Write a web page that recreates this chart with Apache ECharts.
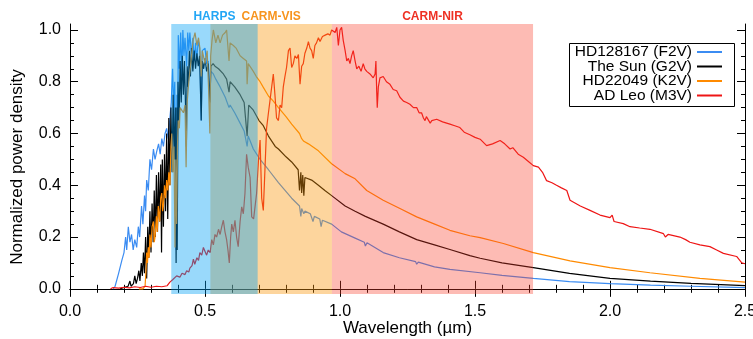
<!DOCTYPE html>
<html><head><meta charset="utf-8">
<script src="https://cdn.jsdelivr.net/npm/echarts@6/dist/echarts.min.js"></script>
<style>html,body{margin:0;padding:0;background:#fff}#c{width:753px;height:339px}</style>
</head><body><div id="c"></div>
<script>
const seriesNames = ['HD128167 (F2V)', 'The Sun (G2V)', 'HD22049 (K2V)', 'AD Leo (M3V)'];
const xTicks = [0.0, 0.5, 1.0, 1.5, 2.0, 2.5];
const yTicks = [0.0, 0.2, 0.4, 0.6, 0.8, 1.0];
const yMinorTicks = [0.05,0.1,0.15,0.25,0.3,0.35,0.45,0.5,0.55,0.65,0.7,0.75,0.85,0.9,0.95];
const bandNames = ['CARM-VIS', 'CARM-NIR', 'HARPS'];
const bandStart = [0.52, 0.97, 0.375];
const bandEnd = [0.97, 1.715, 0.695];

const hd128167 = [[0.160,0.0],[0.167,0.01],[0.180,0.06],[0.192,0.11],[0.200,0.14],[0.206,0.2],[0.210,0.15],[0.216,0.24],[0.222,0.18],[0.228,0.21],[0.234,0.15],[0.240,0.19],[0.247,0.16],[0.253,0.24],[0.258,0.20],[0.265,0.32],[0.270,0.25],[0.276,0.36],[0.280,0.30],[0.284,0.42],[0.290,0.38],[0.296,0.50],[0.302,0.46],[0.309,0.54],[0.315,0.50],[0.321,0.53],[0.328,0.56],[0.334,0.52],[0.340,0.58],[0.346,0.55],[0.352,0.60],[0.358,0.62],[0.364,0.58],[0.370,0.66],[0.375,0.72],[0.380,0.85],[0.384,0.70],[0.388,0.80],[0.393,0.15],[0.396,0.75],[0.398,0.30],[0.401,0.98],[0.405,0.85],[0.410,0.99],[0.414,0.82],[0.418,1.0],[0.422,0.90],[0.426,0.97],[0.432,0.86],[0.436,0.99],[0.440,0.92],[0.444,0.99],[0.450,0.90],[0.455,0.97],[0.460,0.88],[0.465,0.95],[0.469,0.88],[0.475,0.96],[0.480,0.93],[0.486,0.65],[0.490,0.92],[0.500,0.93],[0.506,0.87],[0.512,0.88],[0.518,0.73],[0.522,0.84],[0.531,0.83],[0.540,0.81],[0.556,0.78],[0.575,0.74],[0.589,0.70],[0.593,0.71],[0.610,0.68],[0.630,0.64],[0.645,0.61],[0.656,0.55],[0.660,0.59],[0.679,0.54],[0.704,0.50],[0.735,0.46],[0.772,0.41],[0.821,0.35],[0.850,0.32],[0.855,0.28],[0.858,0.31],[0.866,0.29],[0.870,0.30],[0.890,0.29],[0.900,0.26],[0.905,0.28],[0.925,0.27],[0.930,0.24],[0.935,0.265],[0.969,0.25],[1.005,0.22],[1.056,0.196],[1.090,0.18],[1.094,0.165],[1.100,0.178],[1.160,0.14],[1.220,0.12],[1.280,0.105],[1.284,0.095],[1.290,0.103],[1.350,0.085],[1.407,0.075],[1.519,0.062],[1.600,0.052],[1.716,0.04],[1.850,0.028],[2.000,0.02],[2.150,0.014],[2.300,0.01],[2.500,0.005]];

const sun = [[0.185,0.0],[0.200,0.005],[0.215,0.01],[0.222,0.03],[0.226,0.01],[0.235,0.02],[0.240,0.05],[0.245,0.02],[0.250,0.04],[0.255,0.07],[0.259,0.03],[0.264,0.10],[0.268,0.05],[0.272,0.14],[0.276,0.06],[0.280,0.20],[0.284,0.04],[0.288,0.24],[0.292,0.12],[0.296,0.30],[0.300,0.14],[0.304,0.33],[0.308,0.18],[0.312,0.38],[0.316,0.20],[0.320,0.44],[0.324,0.22],[0.328,0.45],[0.332,0.26],[0.336,0.48],[0.339,0.14],[0.342,0.50],[0.346,0.24],[0.350,0.52],[0.354,0.30],[0.358,0.60],[0.362,0.27],[0.366,0.66],[0.370,0.40],[0.374,0.70],[0.378,0.45],[0.382,0.75],[0.386,0.50],[0.390,0.70],[0.393,0.10],[0.396,0.70],[0.397,0.15],[0.400,0.80],[0.404,0.65],[0.408,0.88],[0.412,0.72],[0.416,0.90],[0.420,0.75],[0.424,0.88],[0.428,0.70],[0.431,0.55],[0.434,0.86],[0.438,0.78],[0.442,0.92],[0.446,0.82],[0.450,0.93],[0.455,0.84],[0.460,0.92],[0.465,0.85],[0.470,0.91],[0.475,0.86],[0.480,0.90],[0.486,0.65],[0.490,0.88],[0.495,0.85],[0.500,0.89],[0.506,0.84],[0.512,0.87],[0.518,0.72],[0.522,0.86],[0.530,0.87],[0.537,0.86],[0.550,0.85],[0.568,0.83],[0.580,0.81],[0.589,0.76],[0.593,0.80],[0.610,0.78],[0.630,0.75],[0.645,0.72],[0.656,0.59],[0.662,0.71],[0.679,0.69],[0.700,0.65],[0.716,0.63],[0.735,0.59],[0.760,0.55],[0.772,0.54],[0.800,0.51],[0.821,0.49],[0.845,0.46],[0.850,0.38],[0.855,0.45],[0.858,0.37],[0.862,0.44],[0.866,0.36],[0.870,0.43],[0.895,0.42],[0.920,0.40],[0.944,0.38],[0.969,0.36],[1.019,0.32],[1.056,0.30],[1.094,0.28],[1.100,0.275],[1.160,0.25],[1.220,0.22],[1.284,0.19],[1.290,0.19],[1.350,0.17],[1.407,0.152],[1.481,0.128],[1.519,0.118],[1.600,0.10],[1.716,0.082],[1.850,0.06],[2.000,0.04],[2.150,0.03],[2.300,0.021],[2.500,0.012]];

const hd22049 = [[0.255,0.0],[0.262,0.005],[0.270,0.0],[0.278,0.01],[0.282,0.08],[0.284,0.14],[0.287,0.10],[0.290,0.16],[0.293,0.12],[0.296,0.21],[0.300,0.16],[0.304,0.24],[0.309,0.26],[0.312,0.18],[0.315,0.20],[0.320,0.28],[0.323,0.22],[0.327,0.32],[0.332,0.26],[0.336,0.35],[0.340,0.37],[0.343,0.30],[0.346,0.32],[0.350,0.40],[0.354,0.35],[0.358,0.42],[0.362,0.38],[0.366,0.45],[0.370,0.40],[0.374,0.55],[0.377,0.60],[0.381,0.45],[0.385,0.55],[0.389,0.16],[0.392,0.50],[0.395,0.25],[0.398,0.55],[0.401,0.65],[0.405,0.62],[0.408,0.70],[0.414,0.70],[0.420,0.68],[0.426,0.71],[0.430,0.47],[0.434,0.72],[0.440,0.80],[0.444,0.84],[0.450,0.90],[0.456,0.96],[0.463,0.99],[0.470,0.94],[0.476,0.97],[0.481,0.93],[0.486,0.82],[0.490,0.92],[0.500,0.87],[0.508,0.92],[0.513,0.78],[0.518,0.60],[0.521,0.90],[0.526,0.96],[0.531,1.0],[0.540,0.95],[0.548,0.98],[0.556,0.95],[0.565,0.98],[0.575,0.99],[0.580,1.0],[0.589,0.88],[0.593,0.95],[0.605,0.94],[0.615,0.93],[0.630,0.90],[0.642,0.89],[0.654,0.88],[0.656,0.79],[0.660,0.87],[0.679,0.84],[0.690,0.82],[0.704,0.80],[0.715,0.78],[0.722,0.775],[0.735,0.745],[0.753,0.725],[0.772,0.70],[0.800,0.665],[0.821,0.636],[0.850,0.60],[0.858,0.58],[0.866,0.57],[0.883,0.56],[0.920,0.533],[0.969,0.483],[1.019,0.445],[1.056,0.425],[1.099,0.38],[1.160,0.342],[1.222,0.31],[1.284,0.278],[1.346,0.252],[1.407,0.226],[1.481,0.205],[1.519,0.198],[1.605,0.175],[1.716,0.14],[1.852,0.108],[2.000,0.082],[2.148,0.062],[2.333,0.04],[2.500,0.026]];

const adLeo = [[0.150,0.0],[0.160,0.005],[0.180,0.003],[0.200,0.006],[0.220,0.004],[0.240,0.008],[0.260,0.005],[0.280,0.01],[0.300,0.006],[0.320,0.01],[0.340,0.008],[0.360,0.012],[0.370,0.026],[0.380,0.035],[0.395,0.05],[0.407,0.045],[0.415,0.06],[0.426,0.055],[0.432,0.07],[0.440,0.065],[0.444,0.08],[0.452,0.09],[0.457,0.115],[0.462,0.095],[0.470,0.12],[0.476,0.11],[0.481,0.14],[0.488,0.13],[0.494,0.16],[0.500,0.153],[0.506,0.13],[0.512,0.15],[0.519,0.14],[0.525,0.19],[0.531,0.17],[0.537,0.21],[0.543,0.20],[0.550,0.23],[0.556,0.21],[0.562,0.24],[0.568,0.265],[0.574,0.22],[0.580,0.19],[0.585,0.15],[0.590,0.10],[0.595,0.20],[0.599,0.25],[0.605,0.22],[0.611,0.265],[0.617,0.20],[0.623,0.163],[0.630,0.26],[0.636,0.317],[0.642,0.29],[0.648,0.368],[0.654,0.52],[0.660,0.47],[0.667,0.43],[0.673,0.278],[0.680,0.27],[0.685,0.265],[0.691,0.368],[0.698,0.495],[0.704,0.575],[0.710,0.35],[0.716,0.303],[0.722,0.46],[0.728,0.62],[0.735,0.68],[0.741,0.73],[0.747,0.78],[0.753,0.83],[0.759,0.75],[0.765,0.66],[0.772,0.65],[0.778,0.71],[0.784,0.70],[0.790,0.78],[0.796,0.82],[0.802,0.855],[0.809,0.92],[0.815,0.93],[0.821,0.855],[0.827,0.87],[0.833,0.90],[0.840,0.89],[0.846,0.905],[0.852,0.79],[0.858,0.86],[0.864,0.87],[0.870,0.91],[0.877,0.93],[0.883,0.955],[0.889,0.93],[0.895,0.92],[0.901,0.89],[0.907,0.94],[0.913,0.95],[0.920,0.97],[0.926,0.955],[0.935,0.975],[0.945,0.98],[0.955,0.985],[0.963,0.98],[0.969,1.0],[0.975,0.995],[0.982,0.99],[0.988,1.01],[0.994,0.94],[1.000,1.0],[1.006,1.01],[1.012,0.96],[1.019,0.92],[1.025,0.88],[1.031,0.89],[1.037,0.87],[1.043,0.90],[1.049,0.92],[1.056,0.88],[1.062,0.85],[1.070,0.86],[1.078,0.84],[1.086,0.87],[1.092,0.85],[1.099,0.84],[1.111,0.83],[1.123,0.815],[1.130,0.83],[1.133,0.88],[1.136,0.76],[1.138,0.70],[1.142,0.78],[1.148,0.815],[1.160,0.82],[1.172,0.80],[1.185,0.79],[1.197,0.77],[1.210,0.765],[1.222,0.74],[1.235,0.725],[1.247,0.72],[1.259,0.713],[1.272,0.70],[1.284,0.70],[1.293,0.68],[1.302,0.68],[1.309,0.66],[1.315,0.65],[1.320,0.665],[1.327,0.66],[1.334,0.64],[1.340,0.65],[1.358,0.655],[1.380,0.645],[1.407,0.636],[1.425,0.63],[1.444,0.623],[1.460,0.605],[1.481,0.595],[1.500,0.585],[1.519,0.578],[1.543,0.553],[1.565,0.56],[1.593,0.573],[1.610,0.56],[1.630,0.54],[1.640,0.545],[1.660,0.52],[1.679,0.508],[1.700,0.49],[1.716,0.476],[1.735,0.47],[1.750,0.45],[1.765,0.418],[1.785,0.41],[1.802,0.40],[1.820,0.39],[1.840,0.38],[1.852,0.342],[1.890,0.32],[1.926,0.303],[1.963,0.285],[2.000,0.275],[2.008,0.285],[2.015,0.26],[2.049,0.252],[2.074,0.24],[2.110,0.235],[2.148,0.23],[2.198,0.213],[2.205,0.20],[2.215,0.21],[2.259,0.20],[2.280,0.19],[2.296,0.18],[2.333,0.17],[2.370,0.163],[2.395,0.15],[2.420,0.137],[2.469,0.125],[2.488,0.10],[2.500,0.097]];

const lineColors = ['#3b8cf2', '#000000', '#ff8a00', '#ee1515'];
const bandFills = ['rgba(250,150,10,0.40)', 'rgba(250,60,40,0.35)', 'rgba(0,160,245,0.40)'];
const bandLabelColors = ['#f7941e', '#ee3124', '#22a6f5'];
const allData = [hd128167, sun, hd22049, adLeo];

const font = "'Liberation Sans', Arial, Helvetica, sans-serif";
const YMIN = -0.02, YMAX = 1.023;
const fmt = v => Number(v).toFixed(1);

const chart = echarts.init(document.getElementById('c'), null, {renderer: 'canvas'});

const series = allData.map((d, i) => ({
  name: seriesNames[i], type: 'line', data: d, showSymbol: false, symbol: 'none',
  lineStyle: {color: lineColors[i], width: 1.2}, itemStyle: {color: lineColors[i]},
  z: 2, silent: true, animation: false
}));
series.push({
  type: 'line', data: [], z: 10, silent: true, animation: false,
  markArea: {
    silent: true, z: 10,
    data: bandNames.map((n, i) => [
      {name: n, xAxis: bandStart[i], itemStyle: {color: bandFills[i]},
       label: {show: true, position: 'top', distance: 1, color: bandLabelColors[i], fontWeight: 'bold', fontSize: 12, fontFamily: font}},
      {xAxis: bandEnd[i]}
    ])
  }
});

const legendCenters = [51, 65.5, 80, 94.5];
const legends = seriesNames.map((n, i) => ({
  data: [n], orient: 'vertical', right: 31, top: legendCenters[i] - 7, align: 'right',
  icon: 'rect', itemWidth: 25, itemHeight: 2, padding: 0, selectedMode: false, z: 6,
  textStyle: {fontSize: 15.5, color: '#000', lineHeight: 14, fontFamily: font}
}));

const axisLineStyle = {color: '#000', width: 1};
const option = {
  animation: false,
  backgroundColor: '#fff',
  textStyle: {fontFamily: font},
  grid: {left: 70, right: 8, top: 24, bottom: 45, containLabel: false, outerBoundsMode: 'none'},
  legend: legends,
  graphic: [{type: 'rect', left: 569, top: 43, z: 4, shape: {width: 165, height: 63}, style: {fill: '#fff', stroke: '#000', lineWidth: 1}}],
  xAxis: [
    {type: 'value', min: 0, max: 2.5, interval: 0.5, position: 'bottom',
     name: 'Wavelength (µm)', nameLocation: 'middle', nameGap: 26, nameMoveOverlap: false,
     nameTextStyle: {fontSize: 17, color: '#000', fontFamily: font},
     axisLine: {show: true, lineStyle: axisLineStyle},
     axisTick: {show: true, inside: true, length: 8, lineStyle: axisLineStyle},
     minorTick: {show: true, splitNumber: 5, length: 4, lineStyle: axisLineStyle},
     axisLabel: {fontSize: 16, color: '#000', margin: 10, formatter: fmt},
     splitLine: {show: false}, minorSplitLine: {show: false}},
    {type: 'value', min: 0, max: 2.5, interval: 0.5, position: 'top',
     axisLine: {show: true, lineStyle: axisLineStyle},
     axisTick: {show: true, inside: true, length: 8, lineStyle: axisLineStyle},
     minorTick: {show: true, splitNumber: 5, length: 4, lineStyle: axisLineStyle},
     axisLabel: {show: false}, splitLine: {show: false}}
  ],
  yAxis: [
    {type: 'value', min: YMIN, max: YMAX, position: 'left',
     name: 'Normalized power density', nameLocation: 'middle', nameGap: 44, nameRotate: 90, nameMoveOverlap: false,
     nameTextStyle: {fontSize: 17, color: '#000', fontFamily: font, padding: [0, 16, 0, 0]},
     axisLine: {show: true, lineStyle: axisLineStyle},
     axisTick: {show: true, inside: true, length: 8, customValues: yTicks, lineStyle: axisLineStyle},
     axisLabel: {fontSize: 16, color: '#000', margin: 9, customValues: yTicks, formatter: fmt},
     splitLine: {show: false}},
    {type: 'value', min: YMIN, max: YMAX, position: 'left',
     axisLine: {show: false},
     axisTick: {show: true, inside: true, length: 4, customValues: yMinorTicks, lineStyle: axisLineStyle},
     axisLabel: {show: false}, splitLine: {show: false}},
    {type: 'value', min: YMIN, max: YMAX, position: 'right',
     axisLine: {show: true, lineStyle: axisLineStyle},
     axisTick: {show: true, inside: true, length: 8, customValues: yTicks, lineStyle: axisLineStyle},
     axisLabel: {show: false}, splitLine: {show: false}},
    {type: 'value', min: YMIN, max: YMAX, position: 'right',
     axisLine: {show: false},
     axisTick: {show: true, inside: true, length: 4, customValues: yMinorTicks, lineStyle: axisLineStyle},
     axisLabel: {show: false}, splitLine: {show: false}}
  ],
  series: series
};
chart.setOption(option);
</script></body></html>
